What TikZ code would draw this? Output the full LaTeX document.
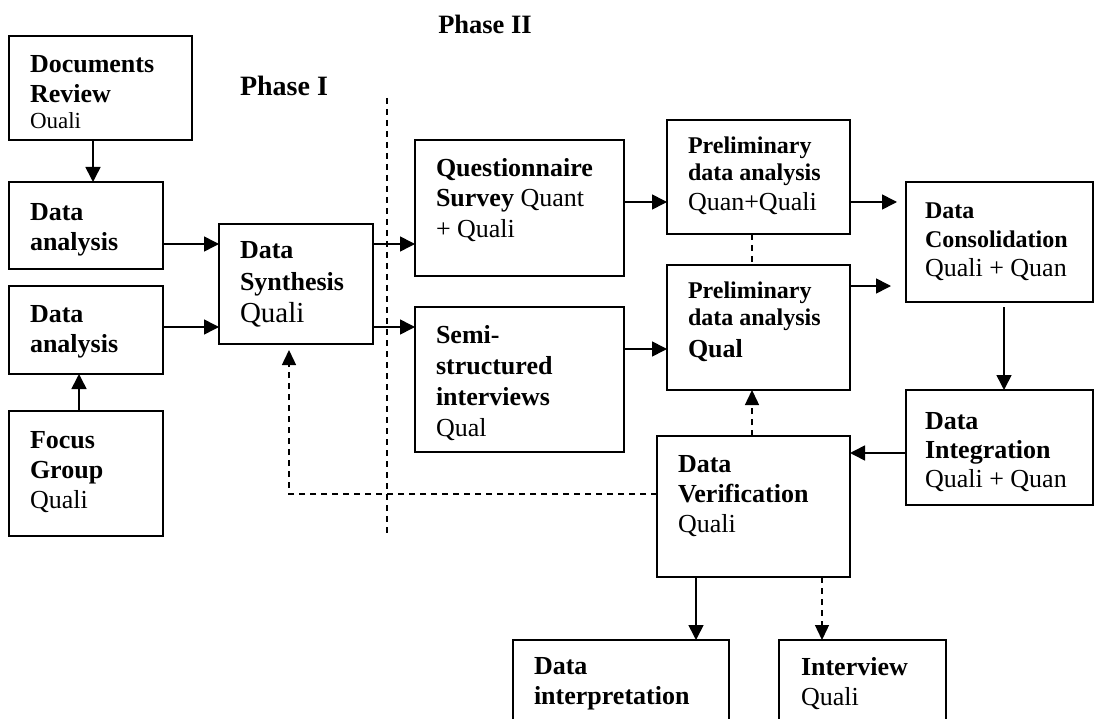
\documentclass[tikz,border=0pt]{standalone}
\usepackage{fontspec}
\setmainfont{Liberation Serif}
\usetikzlibrary{arrows.meta}

\tikzset{
  box/.style={draw, rectangle, line width=1.6pt, inner sep=0pt, outer sep=0pt},
  txt/.style={anchor=north west, align=left, inner sep=0pt, outer sep=0pt,
              font=\fontsize{26}{30}\selectfont},
  smalltxt/.style={txt, font=\fontsize{24}{27}\selectfont},
  conn/.style={line width=1.6pt},
  arr/.style={conn, -{Triangle[length=15pt,width=15pt]}},
  dashline/.style={line width=1.4pt, dash pattern=on 6pt off 5pt},
  darr/.style={dashline, -{Triangle[length=15pt,width=14pt]}},
  phase/.style={font=\bfseries\fontsize{27}{30}\selectfont, inner sep=0pt}
}

% \flowbox{name}{left}{top}{right}{bottom}, all in pixel units
\newcommand{\flowbox}[5]{%
  \pgfmathsetmacro\fbw{#4-#2}%
  \pgfmathsetmacro\fbh{#5-#3}%
  \node[box, minimum width=\fbw pt, minimum height=\fbh pt]
    (#1) at ({(#2+#4)/2},{(#3+#5)/2}) {};}

\begin{document}
\begin{tikzpicture}[x=1pt, y=-1pt]
  \clip (0,0) rectangle (1097,719);
  \fill[white] (0,0) rectangle (1097,719);

  % ---- boxes ----
  \flowbox{docs}{9}{36}{192}{140}
  \flowbox{da1}{9}{182}{163}{269}
  \flowbox{da2}{9}{286}{163}{374}
  \flowbox{fg}{9}{411}{163}{536}
  \flowbox{ds}{219}{224}{373}{344}
  \flowbox{qs}{415}{140}{624}{276}
  \flowbox{ss}{415}{307}{624}{452}
  \flowbox{pda1}{667}{120}{850}{234}
  \flowbox{pda2}{667}{265}{850}{390}
  \flowbox{dc}{906}{182}{1093}{302}
  \flowbox{di}{906}{390}{1093}{505}
  \flowbox{dv}{657}{436}{850}{577}
  \flowbox{dint}{513}{640}{729}{760}
  \flowbox{iv}{779}{640}{946}{760}

  % ---- box texts ----
  \node[txt] (docs-t) at ([shift={(21pt,-19pt)}]docs.north west)
    {\textbf{Documents}\\\textbf{Review}\\[-3.5pt]{\fontsize{23}{26}\selectfont Ouali}};
  \node[txt] (da1-t) at ([shift={(21pt,-21pt)}]da1.north west)
    {\textbf{Data}\\\textbf{analysis}};
  \node[txt] (da2-t) at ([shift={(21pt,-19pt)}]da2.north west)
    {\textbf{Data}\\\textbf{analysis}};
  \node[txt] (fg-t) at ([shift={(21pt,-20pt)}]fg.north west)
    {\textbf{Focus}\\\textbf{Group}\\Quali};
  \node[txt, font=\fontsize{26}{32}\selectfont] (ds-t) at ([shift={(21pt,-17pt)}]ds.north west)
    {\textbf{Data}\\\textbf{Synthesis}\\{\fontsize{29}{32}\selectfont Quali}};
  \node[txt] (qs-t) at ([shift={(21pt,-18pt)}]qs.north west)
    {\textbf{Questionnaire}\\\textbf{Survey} Quant\\[1pt]+ Quali};
  \node[txt, font=\fontsize{26}{31}\selectfont] (ss-t) at ([shift={(21pt,-18pt)}]ss.north west)
    {\textbf{Semi-}\\\textbf{structured}\\\textbf{interviews}\\Qual};
  \node[smalltxt] (pda1-t) at ([shift={(21pt,-17pt)}]pda1.north west)
    {\textbf{Preliminary}\\\textbf{data analysis}\\[3pt]{\fontsize{26}{30}\selectfont Quan+Quali}};
  \node[smalltxt] (pda2-t) at ([shift={(21pt,-17pt)}]pda2.north west)
    {\textbf{Preliminary}\\\textbf{data analysis}\\[4.5pt]{\fontsize{26}{30}\selectfont\bfseries Qual}};
  \node[smalltxt, font=\fontsize{24}{28.5}\selectfont] (dc-t) at ([shift={(19pt,-21pt)}]dc.north west)
    {\textbf{Data}\\\textbf{Consolidation}\\[1pt]{\fontsize{26}{30}\selectfont Quali + Quan}};
  \node[txt, font=\fontsize{26}{29}\selectfont] (di-t) at ([shift={(19pt,-22pt)}]di.north west)
    {\textbf{Data}\\\textbf{Integration}\\Quali + Quan};
  \node[txt] (dv-t) at ([shift={(21pt,-19pt)}]dv.north west)
    {\textbf{Data}\\\textbf{Verification}\\Quali};
  \node[txt] (dint-t) at ([shift={(21pt,-17pt)}]dint.north west)
    {\textbf{Data}\\\textbf{interpretation}};
  \node[txt] (iv-t) at ([shift={(22pt,-17pt)}]iv.north west)
    {\textbf{Interview}\\Quali};

  % ---- phase labels and divider ----
  \node[phase, font=\bfseries\fontsize{28}{30}\selectfont] (ph1) at (284,86) {Phase I};
  \node[phase, font=\bfseries\fontsize{26.5}{30}\selectfont] (ph2) at (485,24) {Phase II};
  \coordinate (divtop) at (387,98);
  \coordinate (divbot) at (387,536);
  \draw[dashline] (divtop) -- (divbot);

  % ---- solid connectors ----
  \coordinate (c1) at ([xshift=-7.5pt]docs.south);
  \draw[arr] (c1) -- (c1 |- da1.north);
  \coordinate (c2) at ([xshift=-7pt]fg.north);
  \draw[arr] (c2) -- (c2 |- da2.south);
  \coordinate (c3) at ([yshift=-18.5pt]da1.east);
  \draw[arr] (c3) -- (c3 -| ds.west);
  \coordinate (c4) at ([yshift=3pt]da2.east);
  \draw[arr] (c4) -- (c4 -| ds.west);
  \coordinate (c5) at ([yshift=40pt]ds.east);
  \draw[arr] (c5) -- (c5 -| qs.west);
  \coordinate (c6) at ([yshift=-43pt]ds.east);
  \draw[arr] (c6) -- (c6 -| ss.west);
  \coordinate (c7) at ([yshift=6pt]qs.east);
  \draw[arr] (c7) -- (c7 -| pda1.west);
  \coordinate (c8) at ([yshift=30.5pt]ss.east);
  \draw[arr] (c8) -- (c8 -| pda2.west);
  \coordinate (c9) at ([yshift=-25pt]pda1.east);
  \coordinate (c9e) at (c9 -| dc.west);
  \draw[arr] (c9) -- ([xshift=-9pt]c9e);
  \coordinate (c10) at ([yshift=41.5pt]pda2.east);
  \coordinate (c10e) at (c10 -| dc.west);
  \draw[arr] (c10) -- ([xshift=-15pt]c10e);
  \coordinate (c11) at ([xshift=4.5pt,yshift=-5pt]dc.south);
  \draw[arr] (c11) -- (c11 |- di.north);
  \coordinate (c12) at ([yshift=-5.5pt]di.west);
  \draw[arr] (c12) -- (c12 -| dv.east);
  \coordinate (c13) at ([xshift=-57.5pt]dv.south);
  \draw[arr] (c13) -- (c13 |- dint.north);

  % ---- dashed connectors ----
  \coordinate (c14) at ([xshift=-6.5pt]pda1.south);
  \draw[dashline] (c14) -- (c14 |- pda2.north);
  \coordinate (c15) at ([xshift=-1.5pt]dv.north);
  \draw[darr] (c15) -- (c15 |- pda2.south);
  \coordinate (c16) at ([xshift=68.5pt]dv.south);
  \draw[darr] (c16) -- (c16 |- iv.north);
  \coordinate (c17) at ([yshift=12.5pt]dv.west);
  \coordinate (c17e) at ([xshift=-7pt,yshift=-6pt]ds.south);
  \draw[darr] (c17) -| (c17e);
\end{tikzpicture}
\end{document}
